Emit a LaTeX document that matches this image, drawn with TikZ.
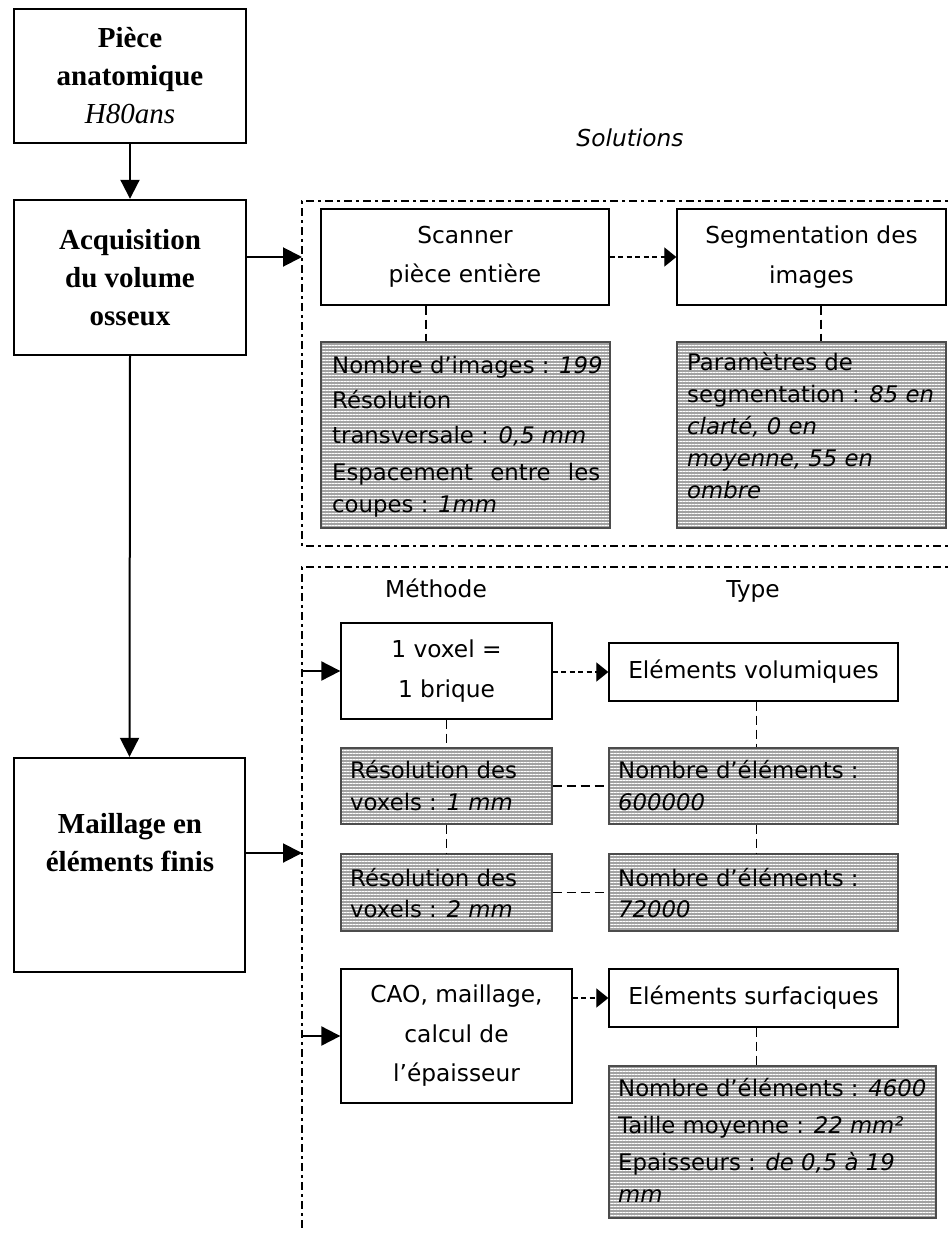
\documentclass[tikz,border=0pt]{standalone}
\usepackage{fontspec}
\setmainfont{Liberation Serif}
\newfontfamily\vsans{DejaVu Sans}
\usetikzlibrary{arrows.meta,patterns.meta,calc}
\definecolor{hgray}{RGB}{162,162,162}
\newcommand{\sfnt}{\vsans\fontsize{23.3}{39.5}\selectfont}
\newcommand{\hfnt}{\vsans\fontsize{22.8}{32}\selectfont}
\newcommand{\bfnt}{\bfseries\fontsize{29}{38}\selectfont}
\tikzset{
 bigbox/.style={draw, line width=2.4pt, inner sep=0pt, align=center, font=\bfnt},
 bigtext/.style={inner sep=0pt, align=center, font=\bfnt},
 wbox/.style={draw, line width=1.3pt, inner sep=0pt, align=center, font=\sfnt, fill=white},
 hbox/.style={preaction={fill=hgray}, preaction={pattern={Lines[angle=0,distance=3pt,line width=1pt]}, pattern color=white}, draw=black!70, line width=1.3pt, inner sep=0pt},
 hl/.style={anchor=base west, inner sep=0pt, font=\hfnt},
 lab/.style={anchor=base, inner sep=0pt, font=\sfnt},
 arr/.style={line width=2pt, -{Triangle[length=19pt,width=19pt]}},
 darr/.style={line width=1.2pt, dash pattern=on 5pt off 3.5pt, -{Triangle[length=12pt,width=19pt]}},
 dl/.style={line width=1.5pt, dash pattern=on 9pt off 5pt},
 framel/.style={line width=1.5pt, dash pattern=on 8pt off 4pt on 3pt off 4pt},
}
\begin{document}
\begin{tikzpicture}[x=1pt,y=-1pt]
\useasboundingbox (0,0) rectangle (949,1234);
% frames
\coordinate (F1a) at (960,201);
\coordinate (F1b) at (302,201);
\coordinate (F1c) at (302,546);
\coordinate (F1d) at (960,546);
\coordinate (F2a) at (960,567);
\coordinate (F2b) at (302,567);
\coordinate (F2c) at (302,1230);
\draw[framel] (F1a) -- (F1b) -- (F1c) -- (F1d);
\draw[framel] (F2a) -- (F2b) -- (F2c);

% left column
\node[bigbox, minimum width=232pt, minimum height=134pt] (b1) at (130,76) {Pièce\\anatomique\\\textit{\mdseries H80ans}};
\node[bigbox, minimum width=232pt, minimum height=155pt] (b2) at (130,277.5) {Acquisition\\du volume\\osseux};
\node[draw, line width=2.4pt, inner sep=0pt, minimum width=231pt, minimum height=214pt] (b3) at (129.5,865) {};
\node[bigtext] (b3t) at (130,843) {Maillage en\\éléments finis};

% labels
\node[lab, font=\vsans\itshape\fontsize{23.3}{39}\selectfont] (sol) at (630,146) {Solutions};
\node[lab] (meth) at (436,597) {Méthode};
\node[lab] (type) at (753,597) {Type};

% top frame boxes
\node[wbox, minimum width=288pt, minimum height=96pt] (sc) at (465,257) {Scanner\\pièce entière};
\node[wbox, minimum width=269pt, minimum height=96pt] (seg) at (811.5,257) {Segmentation des\\images};
\node[hbox, minimum width=289pt, minimum height=186pt] (h1) at (465.5,435) {};
\node[hbox, minimum width=269pt, minimum height=186pt] (h2) at (811.5,435) {};
\node[hl] (h1a) at (332,373) {Nombre d’images : \textit{199}};
\node[hl] (h1b) at (332,408) {Résolution};
\node[hl] (h1c) at (332,443) {transversale : \textit{0,5 mm}};
\node[hl] (h1d) at (332,480) {\makebox[268pt][s]{Espacement entre les}};
\node[hl] (h1e) at (332,512) {coupes : \textit{1mm}};
\node[hl] (h2a) at (687,370) {Paramètres de};
\node[hl] (h2b) at (687,402) {segmentation : \textit{85 en}};
\node[hl] (h2c) at (687,434) {\textit{clarté, 0 en}};
\node[hl] (h2d) at (687,466) {\textit{moyenne, 55 en}};
\node[hl] (h2e) at (687,498) {\textit{ombre}};

% lower frame boxes
\node[wbox, minimum width=211pt, minimum height=96pt] (vox) at (446.5,671) {1 voxel =\\1 brique};
\node[wbox, minimum width=289pt, minimum height=58pt] (ev) at (753.5,672) {Eléments volumiques};
\node[hbox, minimum width=211pt, minimum height=76pt] (r1) at (446.5,786) {};
\node[hbox, minimum width=289pt, minimum height=76pt] (n1) at (753.5,786) {};
\node[hbox, minimum width=211pt, minimum height=77pt] (r2) at (446.5,892.5) {};
\node[hbox, minimum width=289pt, minimum height=77pt] (n2) at (753.5,892.5) {};
\node[hl] (r1a) at (350,778) {Résolution des};
\node[hl] (r1b) at (350,810) {voxels : \textit{1 mm}};
\node[hl] (n1a) at (618,778) {Nombre d’éléments :};
\node[hl] (n1b) at (618,810) {\textit{600000}};
\node[hl] (r2a) at (350,886) {Résolution des};
\node[hl] (r2b) at (350,917) {voxels : \textit{2 mm}};
\node[hl] (n2a) at (618,886) {Nombre d’éléments :};
\node[hl] (n2b) at (618,917) {\textit{72000}};

\node[wbox, minimum width=231pt, minimum height=134pt] (cao) at (456.5,1036) {CAO, maillage,\\calcul de\\l’épaisseur};
\node[wbox, minimum width=289pt, minimum height=58pt] (surf) at (753.5,998) {Eléments surfaciques};
\node[hbox, minimum width=327pt, minimum height=152pt] (fin) at (772.5,1142) {};
\node[hl] (fa) at (618,1096) {Nombre d’éléments : \textit{4600}};
\node[hl] (fb) at (618,1133) {Taille moyenne : \textit{22 mm²}};
\node[hl] (fc) at (618,1170) {Epaisseurs : \textit{de 0,5 à 19}};
\node[hl] (fd) at (618,1202) {\textit{mm}};

% connectors left
\draw[arr] (b1.south) -- (b2.north);
\draw[arr] (b2.south) -- (b3.north);
\draw[arr] (b2.east |- sc.west) -- (F1b |- sc.west);
\draw[arr] (b3.east |- 0,853) -- (F2b |- 0,853);
\draw[arr] (F2b |- vox.west) -- (vox.west);
\draw[arr] (F2b |- cao.west) -- (cao.west);

% dashed arrows
\draw[darr] (sc.east) -- (seg.west);
\draw[darr] (vox.east |- ev.west) -- (ev.west);
\draw[darr] (cao.east |- surf.west) -- (surf.west);

% dashed links
\draw[dl] ([xshift=-39pt]sc.south) -- ([xshift=-39pt]sc.south |- h1.north);
\draw[dl] ([xshift=9.5pt]seg.south) -- ([xshift=9.5pt]seg.south |- h2.north);
\draw[dl] (vox.south) -- (r1.north);
\draw[dl] (r1.south) -- (r2.north);
\draw[dl] ([xshift=3pt]ev.south) -- ([xshift=3pt]ev.south |- n1.north);
\draw[dl] ([xshift=3pt]n1.south) -- ([xshift=3pt]n1.south |- n2.north);
\draw[dl] (r1.east) -- (n1.west);
\draw[dl] (r2.east) -- (n2.west);
\draw[dl] ([xshift=3pt]surf.south) -- ([xshift=3pt]surf.south |- fin.north);
\end{tikzpicture}
\end{document}
